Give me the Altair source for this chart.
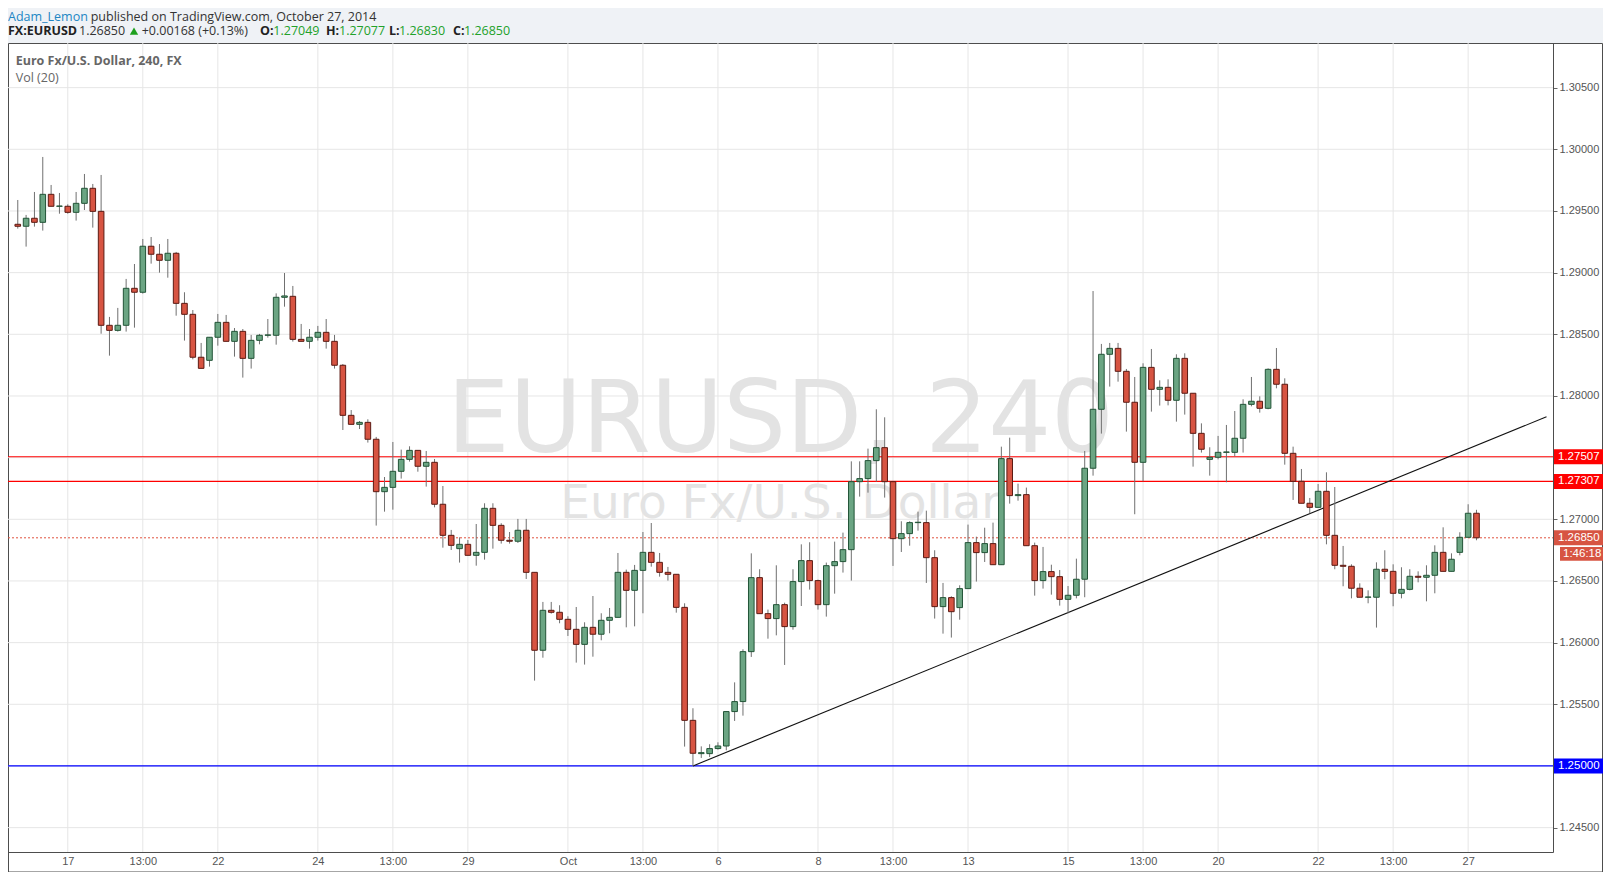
import altair as alt
import pandas as pd

# ---------------- data (EUR/USD, 4h candles, 16 Sep - 27 Oct 2014) ----------------
opens = [
    1.29392, 1.29376, 1.29441, 1.29408, 1.29635, 1.29538, 1.29538, 1.29489, 1.29562, 1.29684,
    1.29497, 1.28573, 1.28532, 1.28573, 1.28873, 1.28841, 1.29214, 1.29149, 1.29100, 1.29157,
    1.28751, 1.28662, 1.28314, 1.28289, 1.28476, 1.28597, 1.28443, 1.28524, 1.28305, 1.28451,
    1.28492, 1.28492, 1.28800, 1.28808, 1.28459, 1.28443, 1.28476, 1.28516, 1.28443, 1.28249,
    1.27843, 1.27770, 1.27786, 1.27649, 1.27224, 1.27259, 1.27389, 1.27486, 1.27559, 1.27430,
    1.27462, 1.27122, 1.26870, 1.26762, 1.26797, 1.26708, 1.26732, 1.27089, 1.26951, 1.26830,
    1.26822, 1.26911, 1.26570, 1.25938, 1.26262, 1.26246, 1.26189, 1.26108, 1.25986, 1.26124,
    1.26068, 1.26181, 1.26205, 1.26570, 1.26424, 1.26586, 1.26732, 1.26651, 1.26570, 1.26554,
    1.26286, 1.25370, 1.25100, 1.25100, 1.25141, 1.25162, 1.25441, 1.25522, 1.25927, 1.26527,
    1.26235, 1.26195, 1.26308, 1.26130, 1.26495, 1.26665, 1.26503, 1.26308, 1.26624, 1.26657,
    1.26754, 1.27305, 1.27330, 1.27476, 1.27581, 1.27305, 1.26843, 1.26884, 1.26973, 1.26973,
    1.26689, 1.26292, 1.26365, 1.26284, 1.26438, 1.26811, 1.26730, 1.26803, 1.26632, 1.27492,
    1.27192, 1.27200, 1.26786, 1.26503, 1.26576, 1.26535, 1.26351, 1.26384, 1.26514, 1.27414,
    1.27892, 1.28338, 1.28386, 1.28200, 1.27949, 1.27462, 1.28232, 1.28054, 1.28070, 1.27965,
    1.28305, 1.28022, 1.27697, 1.27486, 1.27503, 1.27543, 1.27543, 1.27657, 1.27932, 1.27957,
    1.27900, 1.28216, 1.28095, 1.27535, 1.27308, 1.27130, 1.27097, 1.27227, 1.26870, 1.26627,
    1.26619, 1.26441, 1.26368, 1.26368, 1.26595, 1.26578, 1.26400, 1.26432, 1.26538, 1.26530,
    1.26546, 1.26732, 1.26578, 1.26732, 1.26854, 1.27049,
]
highs = [
    1.29589, 1.29468, 1.29654, 1.29938, 1.29711, 1.29646, 1.29554, 1.29654, 1.29800, 1.29719,
    1.29792, 1.28641, 1.28714, 1.28949, 1.29070, 1.29273, 1.29289, 1.29232, 1.29273, 1.29168,
    1.28841, 1.28697, 1.28430, 1.28476, 1.28665, 1.28657, 1.28551, 1.28543, 1.28495, 1.28503,
    1.28624, 1.28832, 1.28997, 1.28892, 1.28584, 1.28543, 1.28568, 1.28624, 1.28495, 1.28259,
    1.27886, 1.27797, 1.27811, 1.27668, 1.27343, 1.27627, 1.27565, 1.27592, 1.27559, 1.27554,
    1.27489, 1.27270, 1.26914, 1.26854, 1.26832, 1.26962, 1.27130, 1.27130, 1.26968, 1.26897,
    1.27003, 1.27003, 1.26570, 1.26330, 1.26330, 1.26303, 1.26214, 1.26289, 1.26165, 1.26378,
    1.26238, 1.26281, 1.26727, 1.26592, 1.26630, 1.26897, 1.26970, 1.26727, 1.26614, 1.26554,
    1.26319, 1.25468, 1.25159, 1.25176, 1.25192, 1.25441, 1.25678, 1.25946, 1.26724, 1.26595,
    1.26268, 1.26627, 1.26324, 1.26595, 1.26797, 1.26814, 1.26511, 1.26649, 1.26819, 1.26892,
    1.27470, 1.27470, 1.27573, 1.27892, 1.27827, 1.27305, 1.26984, 1.26984, 1.27062, 1.27070,
    1.26749, 1.26484, 1.26376, 1.26465, 1.26957, 1.26859, 1.26932, 1.26973, 1.27589, 1.27662,
    1.27289, 1.27257, 1.26811, 1.26776, 1.26632, 1.26589, 1.26459, 1.26681, 1.27554, 1.28851,
    1.28422, 1.28430, 1.28430, 1.28219, 1.28154, 1.28265, 1.28381, 1.28127, 1.28135, 1.28338,
    1.28346, 1.28022, 1.27778, 1.27584, 1.27676, 1.27765, 1.27878, 1.27973, 1.28154, 1.27997,
    1.28224, 1.28389, 1.28143, 1.27589, 1.27408, 1.27173, 1.27286, 1.27381, 1.27262, 1.26784,
    1.26635, 1.26481, 1.26424, 1.26651, 1.26749, 1.26635, 1.26611, 1.26595, 1.26578, 1.26627,
    1.26789, 1.26935, 1.26724, 1.26895, 1.27122, 1.27077,
]
lows = [
    1.29357, 1.29211, 1.29373, 1.29341, 1.29538, 1.29478, 1.29478, 1.29422, 1.29508, 1.29365,
    1.28505, 1.28327, 1.28522, 1.28522, 1.28554, 1.28830, 1.29073, 1.29000, 1.28959, 1.28651,
    1.28449, 1.28297, 1.28224, 1.28238, 1.28408, 1.28443, 1.28319, 1.28149, 1.28222, 1.28419,
    1.28473, 1.28416, 1.28724, 1.28441, 1.28443, 1.28384, 1.28449, 1.28384, 1.28222, 1.27724,
    1.27770, 1.27732, 1.27622, 1.26949, 1.27062, 1.27078, 1.27330, 1.27468, 1.27386, 1.27265,
    1.27097, 1.26770, 1.26751, 1.26649, 1.26708, 1.26624, 1.26673, 1.26762, 1.26803, 1.26803,
    1.26808, 1.26516, 1.25692, 1.25878, 1.26235, 1.26157, 1.26054, 1.25838, 1.25822, 1.25886,
    1.26019, 1.26076, 1.26205, 1.26124, 1.26132, 1.26238, 1.26616, 1.26535, 1.26503, 1.26243,
    1.25157, 1.25000, 1.25065, 1.25073, 1.25132, 1.25127, 1.25365, 1.25408, 1.25884, 1.26235,
    1.26032, 1.26059, 1.25819, 1.26105, 1.26297, 1.26430, 1.26268, 1.26211, 1.26397, 1.26568,
    1.26503, 1.27184, 1.27216, 1.27305, 1.27176, 1.26622, 1.26735, 1.26786, 1.26908, 1.26484,
    1.26195, 1.26073, 1.26041, 1.26186, 1.26438, 1.26495, 1.26654, 1.26632, 1.26632, 1.27127,
    1.27151, 1.26786, 1.26381, 1.26438, 1.26389, 1.26300, 1.26238, 1.26359, 1.26368, 1.27354,
    1.27695, 1.28076, 1.28116, 1.27711, 1.27041, 1.27308, 1.27873, 1.27922, 1.27924, 1.27792,
    1.27849, 1.27427, 1.27541, 1.27354, 1.27486, 1.27300, 1.27511, 1.27541, 1.27916, 1.27865,
    1.27892, 1.28062, 1.27443, 1.27157, 1.27130, 1.27049, 1.27097, 1.26797, 1.26595, 1.26457,
    1.26359, 1.26368, 1.26319, 1.26122, 1.26514, 1.26295, 1.26359, 1.26424, 1.26489, 1.26335,
    1.26400, 1.26578, 1.26578, 1.26708, 1.26854, 1.26830,
]
closes = [
    1.29376, 1.29441, 1.29408, 1.29635, 1.29538, 1.29540, 1.29489, 1.29562, 1.29684, 1.29497,
    1.28573, 1.28532, 1.28573, 1.28873, 1.28841, 1.29214, 1.29149, 1.29100, 1.29157, 1.28751,
    1.28662, 1.28314, 1.28224, 1.28476, 1.28597, 1.28443, 1.28524, 1.28305, 1.28451, 1.28492,
    1.28495, 1.28800, 1.28811, 1.28459, 1.28443, 1.28476, 1.28516, 1.28443, 1.28249, 1.27843,
    1.27770, 1.27786, 1.27649, 1.27224, 1.27259, 1.27389, 1.27486, 1.27559, 1.27430, 1.27462,
    1.27122, 1.26870, 1.26789, 1.26797, 1.26708, 1.26732, 1.27089, 1.26951, 1.26830, 1.26822,
    1.26911, 1.26570, 1.25938, 1.26262, 1.26246, 1.26189, 1.26108, 1.25986, 1.26124, 1.26068,
    1.26181, 1.26205, 1.26570, 1.26424, 1.26586, 1.26732, 1.26651, 1.26570, 1.26554, 1.26286,
    1.25370, 1.25103, 1.25108, 1.25141, 1.25162, 1.25441, 1.25522, 1.25927, 1.26527, 1.26235,
    1.26195, 1.26308, 1.26130, 1.26495, 1.26665, 1.26503, 1.26308, 1.26624, 1.26657, 1.26754,
    1.27305, 1.27330, 1.27476, 1.27581, 1.27305, 1.26843, 1.26884, 1.26973, 1.26976, 1.26689,
    1.26292, 1.26365, 1.26251, 1.26438, 1.26811, 1.26730, 1.26803, 1.26632, 1.27492, 1.27192,
    1.27200, 1.26786, 1.26503, 1.26576, 1.26535, 1.26351, 1.26384, 1.26514, 1.27414, 1.27892,
    1.28338, 1.28386, 1.28200, 1.27949, 1.27462, 1.28232, 1.28054, 1.28070, 1.27965, 1.28305,
    1.28022, 1.27697, 1.27568, 1.27503, 1.27543, 1.27546, 1.27657, 1.27932, 1.27957, 1.27900,
    1.28216, 1.28095, 1.27535, 1.27308, 1.27130, 1.27097, 1.27227, 1.26870, 1.26627, 1.26619,
    1.26441, 1.26368, 1.26370, 1.26595, 1.26578, 1.26400, 1.26432, 1.26538, 1.26530, 1.26546,
    1.26732, 1.26578, 1.26676, 1.26854, 1.27049, 1.26850,
]

# time axis: bar index -> label
tick_idx = [6, 15, 24, 36, 45, 54, 66, 75, 84, 96, 105, 114, 126, 135, 144, 156, 165, 174]
tick_lbl = ["17", "13:00", "22", "24", "13:00", "29", "Oct", "13:00", "6",
            "8", "13:00", "13", "15", "13:00", "20", "22", "13:00", "27"]

# price grid / labels
grid_prices = [1.245, 1.250, 1.255, 1.260, 1.265, 1.270, 1.275,
               1.280, 1.285, 1.290, 1.295, 1.300, 1.305]
axis_prices = [1.245, 1.255, 1.260, 1.265, 1.270,
               1.280, 1.285, 1.290, 1.295, 1.300, 1.305]

# drawn levels
resist_prices = [1.27507, 1.27307]
resist_labels = ["1.27507", "1.27307"]
support_price = [1.25000]
support_label = ["1.25000"]
last_price = [1.26850]
last_label = ["1.26850"]
countdown = ["1:46:18"]
trend_idx = [81, 183.4]
trend_price = [1.25000, 1.27831]

# ---------------- layout ----------------
W, H = 1545, 809
X_DOM = [-0.572, 183.58]
Y_DOM = [1.243024, 1.30862]
GRID = "#e6e6e6"
AXIS_C = "#4d4d4d"
LBL_FONT = "Liberation Sans"

candles = pd.DataFrame({"idx": list(range(len(opens))), "open": opens, "high": highs,
                        "low": lows, "close": closes})
candles["dir"] = ["up" if c >= o else "down" for o, c in zip(opens, closes)]

label_expr = "[" + ",".join("'%s'" % s for s in tick_lbl) + "][indexof([" + \
    ",".join(str(v) for v in tick_idx) + "], datum.value)]"

x_axis = alt.Axis(values=tick_idx, labelExpr=label_expr, title=None, grid=False,
                  tickSize=0, labelPadding=3, labelFont=LBL_FONT, labelFontSize=11,
                  labelColor="#555555", domainColor=AXIS_C, labelOverlap=False,
                  labelFlush=False, zindex=1)
y_axis = alt.Axis(orient="right", values=axis_prices, format=".5f", title=None, grid=False,
                  tickSize=4, tickColor="#666666", labelPadding=2, labelFont=LBL_FONT,
                  labelFontSize=11, labelColor="#555555", domainColor=AXIS_C,
                  labelOverlap=False, labelFlush=False, zindex=1)


def X(field):
    return alt.X(field, type="quantitative",
                 scale=alt.Scale(domain=X_DOM, nice=False, zero=False), axis=x_axis)


def Y(field):
    return alt.Y(field, type="quantitative",
                 scale=alt.Scale(domain=Y_DOM, nice=False, zero=False), axis=y_axis)


one = pd.DataFrame({"k": [0]})

frame = alt.Chart(one).mark_rect(fill="white", stroke=AXIS_C, strokeWidth=1).encode(
    x=alt.value(0.5), x2=alt.value(W + 49.5), y=alt.value(0.5), y2=alt.value(H + 20))

hgrid = alt.Chart(pd.DataFrame({"p": grid_prices})).mark_rule(
    color=GRID, strokeWidth=1).encode(y=Y("p"), x=alt.value(0), x2=alt.value(W))
vgrid = alt.Chart(pd.DataFrame({"idx": tick_idx})).mark_rule(
    color=GRID, strokeWidth=1).encode(x=X("idx"), y=alt.value(0), y2=alt.value(H))

wm1 = alt.Chart(one).mark_text(text="EURUSD, 240", font="DejaVu Sans", fontSize=99,
                               color="#e3e3e3", align="center", baseline="alphabetic").encode(
    x=alt.value(W / 2), y=alt.value(408.7))
wm2 = alt.Chart(one).mark_text(text="Euro Fx/U.S. Dollar", font="DejaVu Sans", fontSize=47,
                               color="#e3e3e3", align="center", baseline="alphabetic").encode(
    x=alt.value(W / 2), y=alt.value(475.3))

resist = alt.Chart(pd.DataFrame({"p": resist_prices})).mark_rule(
    color="#ff0000", strokeWidth=1.2).encode(y=Y("p"), x=alt.value(0), x2=alt.value(W))
support = alt.Chart(pd.DataFrame({"p": support_price})).mark_rule(
    color="#0000ff", strokeWidth=1.2).encode(y=Y("p"), x=alt.value(0), x2=alt.value(W))
lastline = alt.Chart(pd.DataFrame({"p": last_price})).mark_rule(
    color="#e0533f", strokeWidth=1, strokeDash=[2, 2]).encode(
    y=Y("p"), x=alt.value(0), x2=alt.value(W))

trend = alt.Chart(pd.DataFrame({"idx": trend_idx, "p": trend_price})).mark_line(
    color="#111111", strokeWidth=1.1).encode(x=X("idx"), y=Y("p"))

wicks = alt.Chart(candles).mark_rule(color="#707070", strokeWidth=1).encode(
    x=X("idx"), y=Y("low"), y2="high")
bodies = alt.Chart(candles).mark_bar(size=5.6, strokeWidth=1, opacity=1).encode(
    x=X("idx"), y=Y("open"), y2="close",
    fill=alt.Fill("dir:N", scale=alt.Scale(domain=["up", "down"],
                                          range=["#6ba583", "#d75442"]), legend=None),
    stroke=alt.Stroke("dir:N", scale=alt.Scale(domain=["up", "down"],
                                              range=["#225437", "#5b1a13"]), legend=None))

BOX = "M-1,-0.3L1,-0.3L1,0.3L-1,0.3Z"
TBOX = "M-1,-0.32L1,-0.32L1,0.32L-1,0.32Z"


def price_box(prices, labels, fill):
    df = pd.DataFrame({"p": prices, "label": labels})
    box = alt.Chart(df).mark_point(shape=BOX, filled=True, size=2500, opacity=1,
                                   fill=fill, strokeWidth=0).encode(
        y=Y("p"), x=alt.value(W + 25))
    txt = alt.Chart(df).mark_text(align="left", baseline="middle", color="white",
                                  font=LBL_FONT, fontSize=11.5).encode(
        y=Y("p"), x=alt.value(W + 5), text="label:N")
    return [box, txt]


boxes = []
boxes += price_box(resist_prices, resist_labels, "#ff0000")
boxes += price_box(support_price, support_label, "#0000ff")
boxes += price_box(last_price, last_label, "#d75442")
cd_df = pd.DataFrame({"p": last_price, "label": countdown})
boxes.append(alt.Chart(cd_df).mark_point(shape=TBOX, filled=True, size=1849, opacity=1,
                                         fill="#d75442", strokeWidth=0, yOffset=16).encode(
    y=Y("p"), x=alt.value(W + 28.5)))
boxes.append(alt.Chart(cd_df).mark_text(align="left", baseline="middle", color="white",
                                        font=LBL_FONT, fontSize=11.5, yOffset=16).encode(
    y=Y("p"), x=alt.value(W + 10), text="label:N"))

# ---------------- texts ----------------
HF = "Open Sans"


def txt(s, x, y, color="#333333", weight="normal", size=12.5, font=HF):
    return alt.Chart(one).mark_text(text=s, align="left", baseline="middle", font=font,
                                    fontSize=size, fontWeight=weight, color=color).encode(
        x=alt.value(x), y=alt.value(y))


GREEN = "#22a12a"
L1, L2 = -26.0, -11.8
texts = [
    txt("Adam_Lemon", 0, L1, color="#2186c4"),
    txt("published on TradingView.com, October 27, 2014", 82.7, L1),
    txt("FX:EURUSD", 0, L2, color="#222222", weight="bold"),
    txt("1.26850", 71, L2),
    txt("+0.00168 (+0.13%)", 133.7, L2),
    txt("O:", 252, L2, color="#222222", weight="bold"),
    txt("1.27049", 265.3, L2, color=GREEN),
    txt("H:", 318, L2, color="#222222", weight="bold"),
    txt("1.27077", 331, L2, color=GREEN),
    txt("L:", 381, L2, color="#222222", weight="bold"),
    txt("1.26830", 391, L2, color=GREEN),
    txt("C:", 445, L2, color="#222222", weight="bold"),
    txt("1.26850", 456, L2, color=GREEN),
    alt.Chart(one).mark_point(shape="triangle-up", filled=True, size=70, opacity=1,
                              color="#1ea01e").encode(x=alt.value(126), y=alt.value(L2)),
    txt("Euro Fx/U.S. Dollar, 240, FX", 7.7, 18.0, color="#666666", weight="bold"),
    txt("Vol (20)", 7.7, 35.3, color="#666666"),
]

layers = [frame, hgrid, vgrid, wm1, wm2, resist, support, lastline, trend,
          wicks, bodies] + boxes + texts

chart = alt.layer(*layers).properties(
    width=W, height=H,
    autosize=alt.AutoSizeParams(type="none"),
    padding={"left": 0, "top": 35, "right": 50, "bottom": 20},
    background="#eff2f6",
).configure_view(stroke=None)

chart.save("out.html", embed_options={"renderer": "svg", "actions": False})
